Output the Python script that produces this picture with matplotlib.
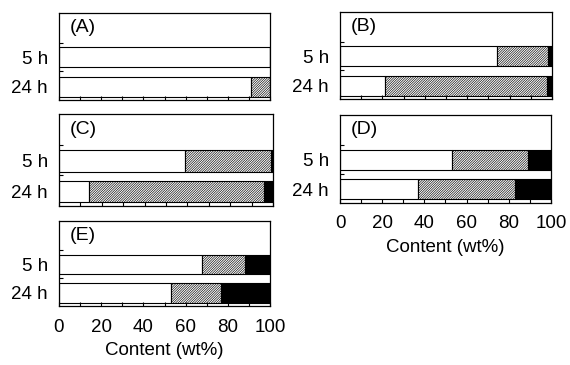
import matplotlib.pyplot as plt
from matplotlib.ticker import MultipleLocator, FixedLocator

plt.rcParams['font.family'] = ['Liberation Sans', 'DejaVu Sans']
plt.rcParams['hatch.linewidth'] = 0.45

# composition (wt%): white, hatched, black for [5 h, 24 h]
panels = ['(A)', '(B)', '(C)', '(D)', '(E)']
times = ['5 h', '24 h']
white = {'(A)': [100, 91], '(B)': [74, 21], '(C)': [59, 14], '(D)': [53, 37], '(E)': [68, 53]}
hatched = {'(A)': [0, 9], '(B)': [24, 76.5], '(C)': [40, 82], '(D)': [36, 46], '(E)': [20, 24]}
black = {'(A)': [0, 0], '(B)': [2, 2.5], '(C)': [1, 4], '(D)': [11, 17], '(E)': [12, 23]}

fig = plt.figure(figsize=(5.7, 3.65), dpi=100)

# axes rectangles in pixels: left, top, right, bottom
boxes = {
    '(A)': (59, 13, 270, 100),
    '(B)': (340, 12, 552, 99),
    '(C)': (59, 114, 273, 206),
    '(D)': (340, 115, 551, 203),
    '(E)': (59, 221, 270, 306),
}
W, H = 570, 365
ypos = [0.49, 0.155]

for p in panels:
    l, t, r, b = boxes[p]
    ax = fig.add_axes([l / W, (H - b) / H, (r - l) / W, (b - t) / H])
    w = white[p]
    h = hatched[p]
    k = black[p]
    ax.barh(ypos, w, height=0.23, color='white', edgecolor='black', linewidth=0.8)
    ax.barh(ypos, h, left=w, height=0.23, color='white', edgecolor='black',
            hatch='/' * 14, linewidth=0.8)
    lefts2 = [a + c for a, c in zip(w, h)]
    ax.barh(ypos, k, left=lefts2, height=0.23, color='black', edgecolor='black', linewidth=0.8)
    ax.set_xlim(0, 100)
    ax.set_ylim(0, 1)
    ax.set_yticks(ypos)
    ax.set_yticklabels(times, fontsize=13.5)
    ax.tick_params(axis='y', length=0, pad=8)
    ax.yaxis.set_minor_locator(FixedLocator([0.66, 0.335]))
    ax.tick_params(axis='y', which='minor', direction='in', length=3, width=0.8)
    ax.xaxis.set_major_locator(MultipleLocator(20))
    ax.xaxis.set_minor_locator(MultipleLocator(10))
    ax.tick_params(axis='x', which='both', direction='in', length=3, width=0.8)
    if p in ('(D)', '(E)'):
        ax.tick_params(axis='x', labelsize=13.5, pad=9)
        ax.set_xlabel('Content (wt%)', fontsize=13.5, labelpad=5)
    else:
        ax.set_xticklabels([])
    for s in ax.spines.values():
        s.set_linewidth(0.9)
    ax.text(0.05, 0.83, p, transform=ax.transAxes, fontsize=14, va='center', ha='left')

fig.savefig('out.png', dpi=100)
